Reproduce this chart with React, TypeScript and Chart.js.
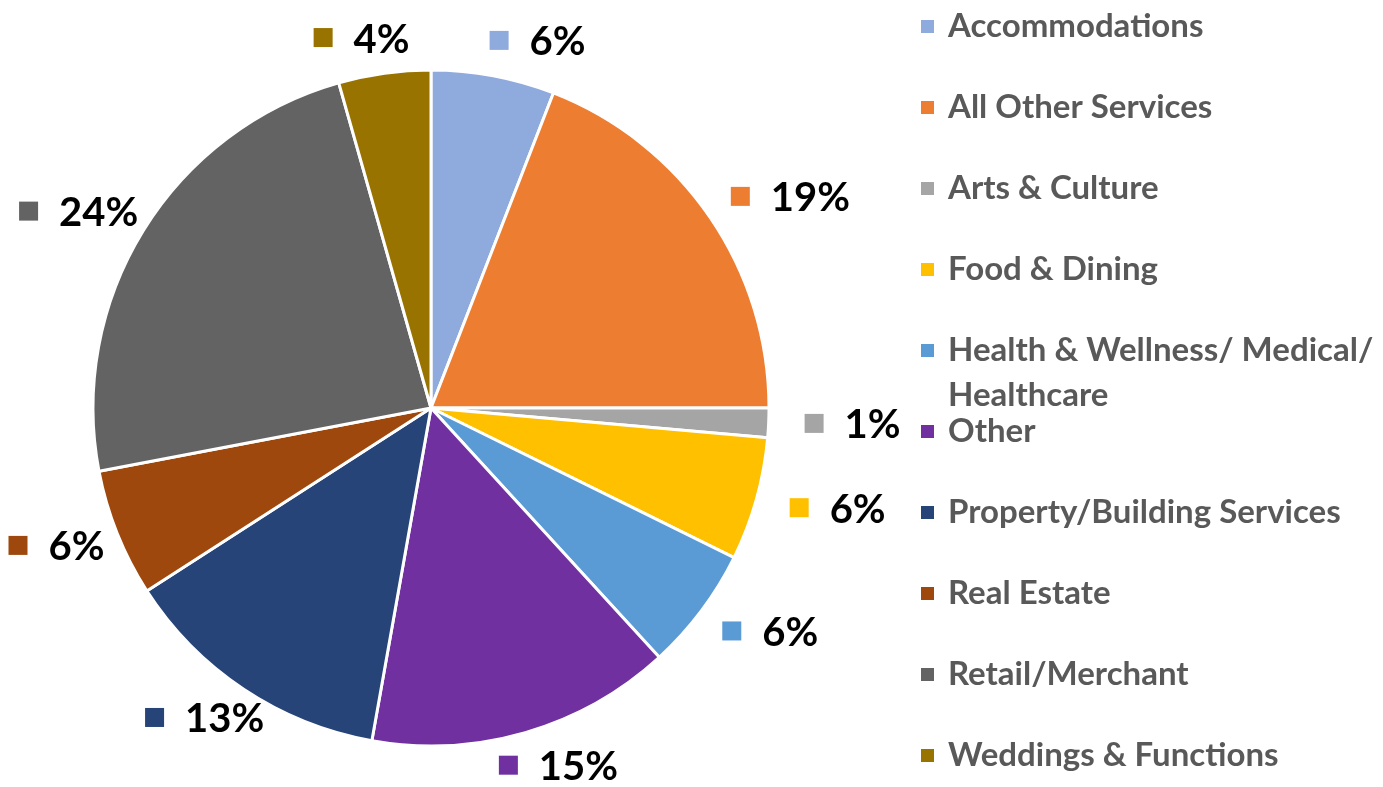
import React, { useEffect, useRef } from "react";
import { Chart, registerables } from "chart.js";

Chart.register(...registerables);

const categories = [
  "Accommodations",
  "All Other Services",
  "Arts & Culture",
  "Food & Dining",
  "Health & Wellness/ Medical/ Healthcare",
  "Other",
  "Property/Building Services",
  "Real Estate",
  "Retail/Merchant",
  "Weddings & Functions",
];
const shares = [5.9, 19.1, 1.4, 5.9, 5.9, 14.6, 13.1, 6.1, 23.6, 4.4];
const colors = [
  "#8FAADC",
  "#ED7D31",
  "#A5A5A5",
  "#FFC000",
  "#5B9BD5",
  "#7030A0",
  "#264478",
  "#9E480E",
  "#636363",
  "#997300",
];

const W = 1383;
const H = 787;
const FONT = "Lato, 'Open Sans', sans-serif";

const labelPlugin = {
  id: "outsideLabels",
  afterDatasetsDraw(chart: any) {
    const ctx = chart.ctx as CanvasRenderingContext2D;
    const meta = chart.getDatasetMeta(0);
    const data = chart.data.datasets[0].data as number[];
    const total = data.reduce((a, b) => a + b, 0);
    ctx.save();
    ctx.font = `bold 40px ${FONT}`;
    const key = 19;
    const gap = 21;
    const pad = 18; // invisible left padding of label box
    const h = 34;
    const boxes = meta.data.map((arc: any, i: number) => {
      const p = arc.getProps(["startAngle", "endAngle", "outerRadius", "x", "y"], true);
      const mid = (p.startAngle + p.endAngle) / 2;
      const text = Math.round((data[i] / total) * 100) + "%";
      const tw = ctx.measureText(text).width;
      const w = key + gap + tw;
      const bw = w + pad;
      const r = p.outerRadius + 18;
      const ax = p.x + r * Math.cos(mid);
      const ay = p.y + r * Math.sin(mid);
      const cx = ax + (bw / 2) * Math.cos(mid);
      const cy = ay + (h / 2) * Math.sin(mid);
      const left = cx - bw / 2 + pad;
      return { text, left, right: left + w, cy, w };
    });
    // simple collision spreading for neighbouring labels on the same row
    const minGap = 80;
    for (let pass = 0; pass < 3; pass++) {
      for (let i = 0; i < boxes.length; i++) {
        for (let j = i + 1; j < boxes.length; j++) {
          const a = boxes[i];
          const b = boxes[j];
          if (Math.abs(a.cy - b.cy) > h) continue;
          const [l, rr] = a.left < b.left ? [a, b] : [b, a];
          const space = rr.left - l.right;
          if (space < minGap) {
            const d = (minGap - space) / 2;
            l.left -= d;
            l.right -= d;
            rr.left += d;
            rr.right += d;
          }
        }
      }
    }
    boxes.forEach((b: any, i: number) => {
      ctx.fillStyle = colors[i];
      ctx.fillRect(b.left, b.cy - key / 2 - 1, key, key);
      ctx.fillStyle = "#000000";
      ctx.textBaseline = "alphabetic";
      ctx.textAlign = "left";
      ctx.fillText(b.text, b.left + key + gap, b.cy + 14);
    });
    ctx.restore();
  },
};

const legendPlugin = {
  id: "sideLegend",
  afterDraw(chart: any) {
    const ctx = chart.ctx as CanvasRenderingContext2D;
    const labels = chart.data.labels as string[];
    const x0 = 921;
    const tx = 948;
    const maxW = W - tx - 2;
    const step = 81;
    const lineH = 45;
    ctx.save();
    ctx.font = `bold 33px ${FONT}`;
    ctx.textAlign = "left";
    ctx.textBaseline = "alphabetic";
    labels.forEach((lab, i) => {
      const cy = 26 + i * step;
      const words = lab.split(" ");
      const lines: string[] = [];
      let cur = "";
      words.forEach((wd) => {
        const t = cur ? cur + " " + wd : wd;
        if (ctx.measureText(t).width > maxW && cur) {
          lines.push(cur);
          cur = wd;
        } else cur = t;
      });
      if (cur) lines.push(cur);
      ctx.fillStyle = colors[i];
      ctx.fillRect(x0, cy - 6, 13, 13);
      ctx.fillStyle = "#595959";
      lines.forEach((ln, j) => {
        ctx.fillText(ln, tx, cy + 11 + j * lineH);
      });
    });
    ctx.restore();
  },
};

export default function App() {
  const ref = useRef<HTMLCanvasElement | null>(null);
  useEffect(() => {
    if (!ref.current) return;
    const chart = new Chart(ref.current, {
      type: "pie",
      data: {
        labels: categories,
        datasets: [
          {
            data: shares,
            backgroundColor: colors,
            borderColor: "#ffffff",
            borderWidth: 3,
            hoverOffset: 0,
          },
        ],
      },
      options: {
        responsive: false,
        animation: false,
        devicePixelRatio: 1,
        radius: 338,
        layout: { padding: { left: 0, right: W - 862, top: 29, bottom: 0 } },
        plugins: {
          legend: { display: false },
          tooltip: { enabled: false },
        },
      } as any,
      plugins: [labelPlugin, legendPlugin],
    });
    return () => chart.destroy();
  }, []);
  return (
    <div style={{ position: "absolute", left: 0, top: 0, width: W, height: H, background: "#fff" }}>
      <canvas ref={ref} width={W} height={H} style={{ display: "block" }} />
    </div>
  );
}
